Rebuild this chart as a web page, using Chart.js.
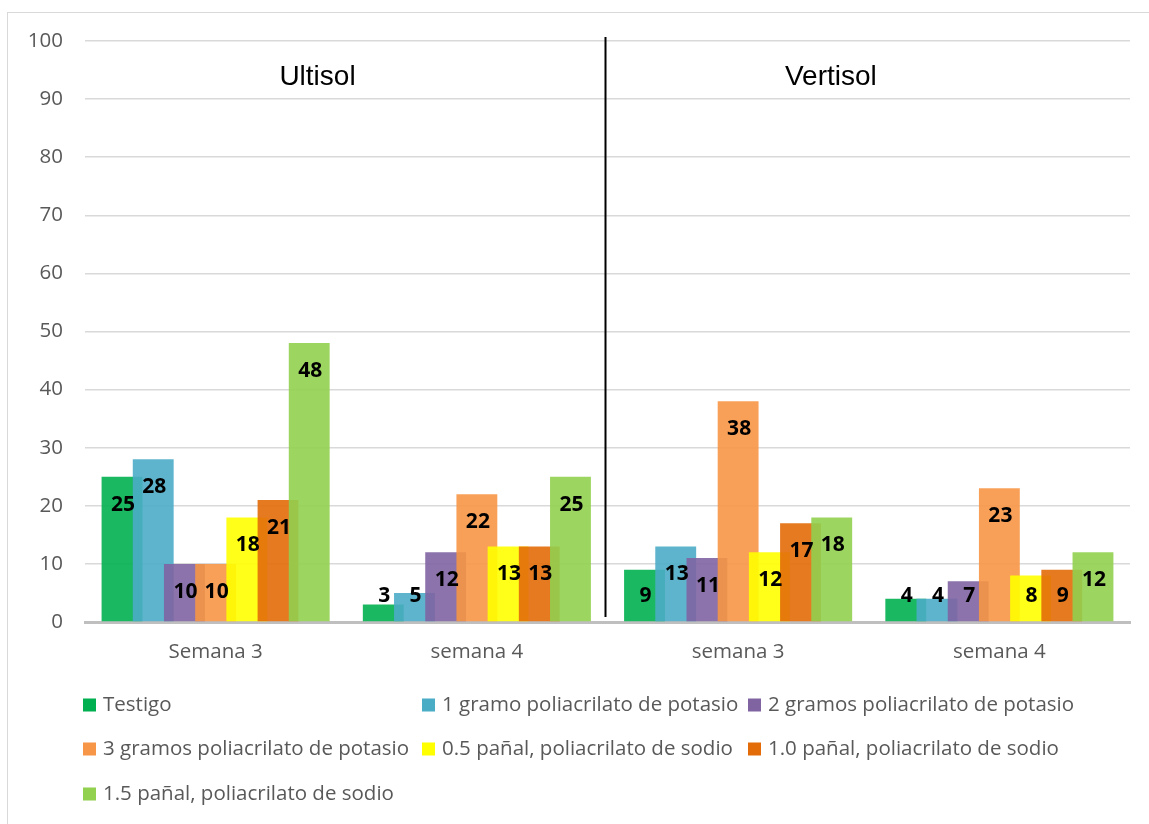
<!DOCTYPE html>
<html>
<head>
<meta charset="utf-8">
<title>Suelos</title>
<script src="https://cdn.jsdelivr.net/npm/chart.js@4.4.0/dist/chart.umd.min.js"></script>
<style>
  body { margin: 0; background: #fff; }
  #frame { position: absolute; left: 7px; top: 12px; width: 1160px; height: 830px; border: 1px solid #d9d9d9; }
  #myChart { position: absolute; left: 0; top: 0; }
</style>
</head>
<body>
<div id="frame"></div>
<canvas id="myChart" width="1149" height="824"></canvas>
<script>
// categories and series
const semanas = ["Semana 3", "semana 4", "semana 3", "semana 4"];
const suelos = ["Ultisol", "Vertisol"];
const testigo = [25, 3, 9, 4];
const gramo1 = [28, 5, 13, 4];
const gramos2 = [10, 12, 11, 7];
const gramos3 = [10, 22, 38, 23];
const panal05 = [18, 13, 12, 8];
const panal10 = [21, 13, 17, 9];
const panal15 = [48, 25, 18, 12];
const yTicks = [0, 10, 20, 30, 40, 50, 60, 70, 80, 90, 100];

const nombres = [
  "Testigo",
  "1 gramo poliacrilato de potasio",
  "2 gramos poliacrilato de potasio",
  "3 gramos poliacrilato de potasio",
  "0.5 pañal, poliacrilato de sodio",
  "1.0 pañal, poliacrilato de sodio",
  "1.5 pañal, poliacrilato de sodio"
];
const valores = [testigo, gramo1, gramos2, gramos3, panal05, panal10, panal15];
const colores = ["#00b050", "#4bacc6", "#8064a2", "#f79646", "#ffff00", "#e36c09", "#92d050"];

function alpha(hex, a) {
  let r = parseInt(hex.substr(1, 2), 16), g = parseInt(hex.substr(3, 2), 16), b = parseInt(hex.substr(5, 2), 16);
  return "rgba(" + r + "," + g + "," + b + "," + a + ")";
}

const gris = "#595959";
const fuente = "'Open Sans', sans-serif";

// later series are painted over the earlier ones
const ordenBarras = {
  id: "ordenBarras",
  beforeDatasetsDraw(chart) {
    const ctx = chart.ctx, a = chart.chartArea;
    ctx.save();
    ctx.beginPath();
    ctx.rect(a.left, a.top - 2, a.right - a.left, a.bottom - a.top + 2);
    ctx.clip();
    chart.getSortedVisibleDatasetMetas().slice().sort((p, q) => p.index - q.index)
      .forEach(meta => meta.controller.draw());
    ctx.restore();
    return false;
  }
};

const extras = {
  id: "extras",
  afterDraw(chart) {
    const ctx = chart.ctx;
    const x = chart.scales.x, y = chart.scales.y;

    // numbers on the bars
    ctx.save();
    ctx.font = "bold 21px " + fuente;
    ctx.fillStyle = "#000";
    ctx.textAlign = "center";
    ctx.textBaseline = "middle";
    chart.data.datasets.forEach((ds, i) => {
      chart.getDatasetMeta(i).data.forEach((bar, j) => {
        let ty = Math.min(bar.y + 28, bar.base - 25);
        ctx.fillText(String(ds.data[j]), bar.x + 1, ty);
      });
    });
    ctx.restore();

    // divider between the two soils
    let step = x.getPixelForValue(1) - x.getPixelForValue(0);
    let mid = (x.getPixelForValue(1) + x.getPixelForValue(2)) / 2 - 2;
    ctx.save();
    ctx.strokeStyle = "#000";
    ctx.lineWidth = 2;
    ctx.beginPath();
    ctx.moveTo(mid, y.getPixelForValue(100) - 4);
    ctx.lineTo(mid, y.getPixelForValue(0) - 5);
    ctx.stroke();

    // soil names
    ctx.font = "28px 'Liberation Sans', Arial, sans-serif";
    ctx.fillStyle = "#000";
    ctx.textAlign = "center";
    ctx.textBaseline = "middle";
    suelos.forEach((s, k) => {
      ctx.fillText(s, x.getPixelForValue(k * 2) + step * (k === 0 ? 0.39 : 0.355), 77);
    });
    ctx.restore();

    // legend in three columns
    const colX = [83, 422, 748];
    const rowY = [705, 749, 794];
    ctx.save();
    ctx.font = "20.5px " + fuente;
    ctx.textAlign = "left";
    ctx.textBaseline = "middle";
    chart.data.datasets.forEach((ds, i) => {
      let cx = colX[i % 3], cy = rowY[Math.floor(i / 3)];
      ctx.fillStyle = colores[i];
      ctx.fillRect(cx, cy - 6.5, 13, 13);
      ctx.fillStyle = gris;
      ctx.fillText(ds.label, cx + 20, cy);
    });
    ctx.restore();
  }
};

const ctx = document.getElementById("myChart").getContext("2d");
const myChart = new Chart(ctx, {
  type: "bar",
  data: {
    labels: semanas,
    datasets: valores.map((v, i) => ({
      label: nombres[i],
      data: v,
      backgroundColor: alpha(colores[i], 0.9),
      borderWidth: 0,
      barPercentage: 1.31,
      categoryPercentage: 0.836
    }))
  },
  options: {
    responsive: false,
    animation: false,
    devicePixelRatio: 1,
    layout: { padding: { top: 41, right: 19, bottom: 162, left: 0 } },
    plugins: {
      legend: { display: false },
      tooltip: { enabled: false }
    },
    scales: {
      x: {
        grid: { display: false, drawTicks: false },
        border: { display: true, color: "#bfbfbf", width: 3 },
        ticks: { color: gris, font: { family: fuente, size: 20.5 }, padding: 18 },
        afterFit: s => { s.height = 40; }
      },
      y: {
        min: 0,
        max: 100,
        afterBuildTicks: s => { s.ticks = yTicks.map(v => ({ value: v })); },
        grid: { color: "#d9d9d9", lineWidth: 1.5, drawTicks: false },
        border: { display: false },
        ticks: { color: gris, font: { family: fuente, size: 20.5 }, padding: 22 },
        afterFit: s => { s.width = 85; }
      }
    }
  },
  plugins: [ordenBarras, extras]
});
</script>
</body>
</html>
